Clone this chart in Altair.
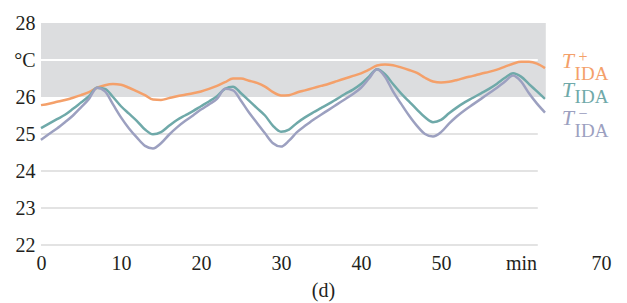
import altair as alt
import pandas as pd

minutes = list(range(0, 64))

t_plus = [25.78, 25.82, 25.87, 25.92, 25.98, 26.05, 26.13, 26.25, 26.32, 26.35,
          26.33, 26.25, 26.15, 26.05, 25.93, 25.92, 25.97, 26.02, 26.06, 26.10,
          26.15, 26.22, 26.30, 26.40, 26.50, 26.50, 26.44, 26.38, 26.28, 26.13,
          26.04, 26.05, 26.12, 26.18, 26.24, 26.30, 26.36, 26.43, 26.50, 26.57,
          26.64, 26.74, 26.85, 26.88, 26.86, 26.80, 26.73, 26.65, 26.52, 26.42,
          26.39, 26.41, 26.46, 26.52, 26.57, 26.63, 26.68, 26.74, 26.82, 26.90,
          26.95, 26.95, 26.90, 26.78]

t_mid = [25.16, 25.28, 25.40, 25.52, 25.68, 25.85, 26.02, 26.25, 26.22, 26.00,
         25.75, 25.55, 25.35, 25.12, 24.99, 25.05, 25.22, 25.38, 25.50, 25.62,
         25.75, 25.88, 26.02, 26.22, 26.28, 26.10, 25.90, 25.70, 25.50, 25.22,
         25.06, 25.12, 25.30, 25.45, 25.58, 25.70, 25.82, 25.95, 26.08, 26.20,
         26.35, 26.55, 26.75, 26.62, 26.35, 26.10, 25.88, 25.66, 25.45, 25.32,
         25.38, 25.56, 25.72, 25.86, 25.98, 26.10, 26.22, 26.36, 26.52, 26.64,
         26.55, 26.35, 26.15, 25.95]

t_minus = [24.84, 25.00, 25.15, 25.32, 25.50, 25.72, 25.95, 26.25, 26.15, 25.80,
           25.45, 25.15, 24.90, 24.68, 24.61, 24.75, 24.98, 25.18, 25.35, 25.50,
           25.66, 25.80, 25.95, 26.22, 26.18, 25.90, 25.58, 25.30, 25.02, 24.75,
           24.66, 24.82, 25.05, 25.22, 25.38, 25.52, 25.66, 25.80, 25.94, 26.08,
           26.25, 26.50, 26.75, 26.55, 26.15, 25.82, 25.50, 25.22, 25.00, 24.93,
           25.05, 25.28, 25.48, 25.65, 25.80, 25.95, 26.10, 26.25, 26.42, 26.58,
           26.42, 26.10, 25.82, 25.58]

series_names = ["T+", "T", "T-"]
series_colors = ["#F4A06A", "#6FA9A9", "#9CA0C0"]

x_ticks = [0, 10, 20, 30, 40, 50, 60, 70]
y_ticks = [22, 23, 24, 25, 26, 27, 28]

band = {"x0": [0], "x1": [63.1], "y0": [26], "y1": [28]}
grid_gray = [22, 23, 24, 25]
grid_white = [27]
grid_end = 62.1

# series labels (T, subscript, superscript)
lab_T = {"text": ["T", "T", "T"], "x": [65.1, 65.1, 65.1], "y": [26.78, 26.0, 25.24],
         "s": series_names}
lab_sub = {"text": ["IDA", "IDA", "IDA"], "x": [66.7, 66.7, 66.7],
           "y": [26.46, 25.84, 24.92], "s": series_names}
lab_sup = {"text": ["+", "−"], "x": [67.2, 67.2], "y": [26.95, 25.40],
           "s": ["T+", "T-"]}
caption = {"text": ["(d)"], "x": [35.3], "y": [20.76]}

FONT = "Times New Roman, Liberation Serif, serif"

rows = []
for name, vals in zip(series_names, [t_plus, t_mid, t_minus]):
    for m, v in zip(minutes, vals):
        rows.append({"min": m, "temp": v, "s": name})
df = pd.DataFrame(rows)

xscale = alt.Scale(domain=[0, 70], nice=False, zero=False)
yscale = alt.Scale(domain=[22, 28], nice=False, zero=False)
cscale = alt.Scale(domain=series_names, range=series_colors)

xax = alt.Axis(values=x_ticks, grid=False, domain=False, ticks=False,
               title=None, labelFont=FONT, labelFontSize=20,
               labelColor="#231f20", labelPadding=8, labelOverlap=False,
               labelFlush=False,
               labelExpr="datum.value == 60 ? 'min' : datum.value")
yax = alt.Axis(values=y_ticks, grid=False, domain=False, ticks=False,
               title=None, labelFont=FONT, labelFontSize=20,
               labelColor="#231f20", labelPadding=6, labelOverlap=False,
               labelFlush=False,
               labelExpr="datum.value == 27 ? '°C' : datum.value")


def X(field):
    return alt.X(field, scale=xscale, axis=xax)


def Y(field):
    return alt.Y(field, scale=yscale, axis=yax)


band_layer = alt.Chart(pd.DataFrame(band)).mark_rect(color="#DCDDDF").encode(
    x=X("x0:Q"), x2="x1:Q", y=Y("y0:Q"), y2="y1:Q")

grid_g = alt.Chart(pd.DataFrame({"y": grid_gray, "x0": 0, "x1": grid_end})).mark_rule(
    color="#DADADA", strokeWidth=1.5).encode(x=X("x0:Q"), x2="x1:Q", y=Y("y:Q"))

grid_w = alt.Chart(pd.DataFrame({"y": grid_white, "x0": 0, "x1": grid_end})).mark_rule(
    color="#FFFFFF", strokeWidth=1.8).encode(x=X("x0:Q"), x2="x1:Q", y=Y("y:Q"))

lines = alt.Chart(df).mark_line(strokeWidth=2.5, strokeJoin="round",
                                interpolate="monotone").encode(
    x=X("min:Q"), y=Y("temp:Q"),
    color=alt.Color("s:N", scale=cscale, legend=None),
    detail="s:N",
)

t_layer = alt.Chart(pd.DataFrame(lab_T)).mark_text(
    font=FONT, fontSize=22, fontStyle="italic", align="left", baseline="alphabetic").encode(
    x=X("x:Q"), y=Y("y:Q"), text="text:N",
    color=alt.Color("s:N", scale=cscale, legend=None))

sub_layer = alt.Chart(pd.DataFrame(lab_sub)).mark_text(
    font=FONT, fontSize=19, align="left", baseline="alphabetic").encode(
    x=X("x:Q"), y=Y("y:Q"), text="text:N",
    color=alt.Color("s:N", scale=cscale, legend=None))

sup_layer = alt.Chart(pd.DataFrame(lab_sup)).mark_text(
    font=FONT, fontSize=16, align="left", baseline="alphabetic").encode(
    x=X("x:Q"), y=Y("y:Q"), text="text:N",
    color=alt.Color("s:N", scale=cscale, legend=None))

cap_layer = alt.Chart(pd.DataFrame(caption)).mark_text(
    font=FONT, fontSize=20, align="center", baseline="middle", color="#231f20").encode(
    x=X("x:Q"), y=Y("y:Q"), text="text:N")

chart = alt.layer(band_layer, grid_g, grid_w, lines, t_layer, sub_layer, sup_layer,
                  cap_layer).properties(
    width=560, height=222,
    background="white",
    autosize=alt.AutoSizeParams(type="none"),
    padding={"left": 33, "top": 15, "right": 18, "bottom": 57},
).configure_view(stroke=None).configure_axis(labelOverlap=False)

chart.save("out.html", embed_options={"renderer": "svg", "actions": False})
